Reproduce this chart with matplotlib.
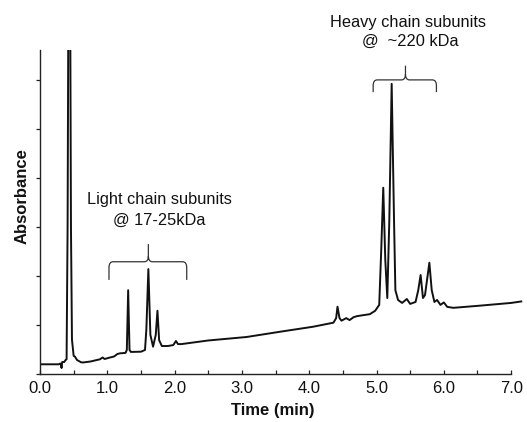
import matplotlib
matplotlib.use("Agg")
import matplotlib.pyplot as plt
from matplotlib.path import Path
from matplotlib.patches import PathPatch

# ---- data (time in min, absorbance in arbitrary units) ----
time_min = [0.00, 0.28, 0.30, 0.31, 0.32, 0.33, 0.36, 0.38, 0.395, 0.41, 0.425, 0.445,
            0.46, 0.475, 0.50, 0.52, 0.55, 0.61, 0.64, 0.75, 0.89, 0.93, 0.96, 1.03,
            1.10, 1.15, 1.19, 1.27, 1.29, 1.31, 1.33, 1.35, 1.50, 1.56, 1.58, 1.61,
            1.64, 1.68, 1.72, 1.745, 1.77, 1.81, 1.90, 1.98, 2.02, 2.05, 2.10, 2.50,
            3.07, 3.57, 4.06, 4.36, 4.40, 4.42, 4.45, 4.48, 4.55, 4.60, 4.66, 4.71,
            4.80, 4.90, 4.98, 5.04, 5.07, 5.10, 5.13, 5.16, 5.19, 5.225, 5.26, 5.28,
            5.32, 5.38, 5.45, 5.50, 5.58, 5.62, 5.655, 5.69, 5.72, 5.785, 5.82, 5.86,
            5.90, 5.95, 6.00, 6.05, 6.14, 6.50, 7.00, 7.15]
absorbance = [0.198, 0.198, 0.214, 0.20, 0.122, 0.245, 0.245, 0.286, 0.30, 3.0, 9.0, 9.0,
              3.0, 0.70, 0.37, 0.353, 0.286, 0.239, 0.235, 0.255, 0.300, 0.337, 0.306, 0.333,
              0.357, 0.408, 0.422, 0.430, 0.490, 1.710, 0.490, 0.450, 0.455, 0.490, 0.900, 2.140,
              0.800, 0.557, 0.800, 1.290, 0.690, 0.571, 0.571, 0.590, 0.673, 0.610, 0.610, 0.684,
              0.755, 0.863, 0.965, 1.047, 1.140, 1.373, 1.140, 1.088, 1.140, 1.100, 1.160, 1.180,
              1.200, 1.220, 1.290, 1.410, 2.530, 3.800, 2.330, 1.550, 3.140, 5.920, 3.140, 1.710,
              1.510, 1.450, 1.530, 1.430, 1.470, 1.710, 2.020, 1.550, 1.610, 2.270, 1.710, 1.470,
              1.510, 1.410, 1.460, 1.370, 1.350, 1.390, 1.450, 1.480]

x_major = [0, 1, 2, 3, 4, 5, 6, 7]
x_minor = [0.5, 1.5, 2.5, 3.5, 4.5, 5.5, 6.5]
x_labels = ["0.0", "1.0", "2.0", "3.0", "4.0", "5.0", "6.0", "7.0"]
y_ticks = [0, 1, 2, 3, 4, 5, 6]

light_label = ["Light chain subunits", "@ 17-25kDa"]
heavy_label = ["Heavy chain subunits", "@  ~220 kDa"]

plt.rcParams['font.family'] = ['Liberation Sans', 'DejaVu Sans']

fig = plt.figure(figsize=(5.27, 4.22), dpi=100)
ax = fig.add_axes([40/527, 1 - 374/422, 484.6/527, 324/422])

ax.plot(time_min, absorbance, color='#111111', lw=1.4, solid_joinstyle='round')
ax.set_xlim(0, 7.2)
ax.set_ylim(0, 6.61)

for s in ['top', 'right']:
    ax.spines[s].set_visible(False)
ax.spines['bottom'].set_bounds(0, 7)
for s in ['left', 'bottom']:
    ax.spines[s].set_linewidth(1.0)
    ax.spines[s].set_color('#222222')

ax.set_xticks(x_major)
ax.set_xticklabels(x_labels, fontsize=12, color='#111111')
ax.set_xticks(x_minor, minor=True)
ax.tick_params(axis='x', which='both', direction='in', length=3, width=0.9, pad=5, color='#222222')
ax.set_yticks(y_ticks)
ax.set_yticklabels([])
ax.tick_params(axis='y', direction='out', length=3, width=0.9, color='#222222')

fig.text(273/527, 1 - 411/422, "Time (min)", fontsize=12, fontweight='bold',
         ha='center', va='center', color='#111111')
fig.text(22.5/527, 1 - 196/422, "Absorbance", fontsize=12, fontweight='bold',
         rotation=90, ha='center', va='center', color='#111111')


def bracket(xl, xr, xc, yh, yb, yt, rx=0.06, ry=0.12):
    verts = [(xl, yh), (xl, yb - ry), (xl, yb), (xl + rx, yb),
             (xc - rx, yb), (xc, yb), (xc, yb + ry), (xc, yt),
             (xc, yb + ry), (xc, yb), (xc + rx, yb),
             (xr - rx, yb), (xr, yb), (xr, yb - ry), (xr, yh)]
    codes = [Path.MOVETO, Path.LINETO, Path.CURVE3, Path.CURVE3,
             Path.LINETO, Path.CURVE3, Path.CURVE3, Path.LINETO,
             Path.MOVETO, Path.CURVE3, Path.CURVE3,
             Path.LINETO, Path.CURVE3, Path.CURVE3, Path.LINETO]
    ax.add_patch(PathPatch(Path(verts, codes), fill=False, lw=0.9,
                           edgecolor='#333333', clip_on=False))


bracket(1.025, 2.18, 1.61, 1.92, 2.29, 2.65)
bracket(4.95, 5.89, 5.43, 5.75, 6.00, 6.29)

ax.text(1.77, 3.55, light_label[0], fontsize=11.8, ha='center', va='center', color='#111111')
ax.text(1.77, 3.14, light_label[1], fontsize=11.8, ha='center', va='center', color='#111111')
ax.text(5.47, 7.18, heavy_label[0], fontsize=11.8, ha='center', va='center', color='#111111')
ax.text(5.50, 6.78, heavy_label[1], fontsize=11.8, ha='center', va='center', color='#111111')

fig.savefig("out.png", dpi=100)
